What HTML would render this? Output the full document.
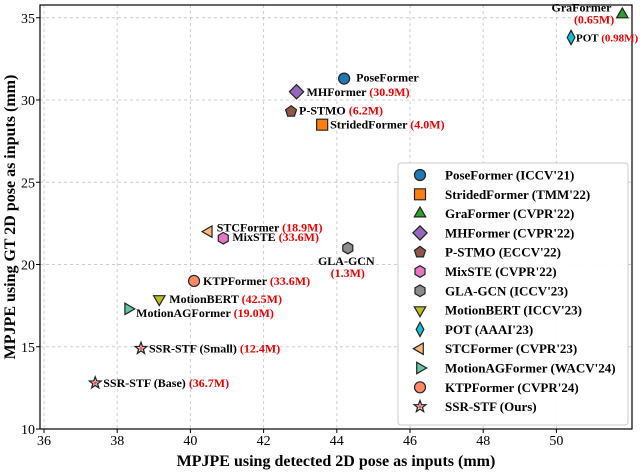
<!DOCTYPE html>
<html><head><meta charset="utf-8"><style>
body{margin:0;background:#fff}
svg text{font-family:"Liberation Serif",serif}
</style></head><body>
<svg id="c" width="640" height="470" xmlns="http://www.w3.org/2000/svg"></svg>
<script>
const names=["PoseFormer","StridedFormer","GraFormer","MHFormer","P-STMO","MixSTE","GLA-GCN","MotionBERT","POT","STCFormer","MotionAGFormer","KTPFormer","SSR-STF (Small)","SSR-STF (Base)"];
const xVals=[44.2,43.6,51.8,42.9,42.75,40.9,44.3,39.15,50.4,40.5,38.3,40.1,38.65,37.4];
const yVals=[31.3,28.5,35.2,30.5,29.3,21.6,21.0,17.9,33.8,22.0,17.3,19.0,14.9,12.8];
const params=["","(4.0M)","(0.65M)","(30.9M)","(6.2M)","(33.6M)","(1.3M)","(42.5M)","(0.98M)","(18.9M)","(19.0M)","(33.6M)","(12.4M)","(36.7M)"];
const xTicks=[36,38,40,42,44,46,48,50];
const yTicks=[10,15,20,25,30,35];
const legendLabels=["PoseFormer (ICCV'21)","StridedFormer (TMM'22)","GraFormer (CVPR'22)","MHFormer (CVPR'22)","P-STMO (ECCV'22)","MixSTE (CVPR'22)","GLA-GCN (ICCV'23)","MotionBERT (ICCV'23)","POT (AAAI'23)","STCFormer (CVPR'23)","MotionAGFormer (WACV'24)","KTPFormer (CVPR'24)","SSR-STF (Ours)"];
const L=40,R=632,T=5,B=429;
const sx=v=>44+(v-36)*36.6, sy=v=>429-(v-10)*16.45;
const svg=document.getElementById('c');const NS="http://www.w3.org/2000/svg";
function mk(t,a,p){const e=document.createElementNS(NS,t);for(const k in a)e.setAttribute(k,a[k]);(p||svg).appendChild(e);return e;}
const types=["circle","square","tri","diamond","pent","hex","hex","vtri","thin","ltri","rtri","circle","star","star"];
const colors=["#1f77b4","#ff7f0e","#2ca02c","#9467bd","#8c564b","#e377c2","#8c8c8c","#bcbd22","#17becf","#ffbb78","#5fc4a8","#ff8a65","#ff4444","#ff4444"];
function starPath(x,y,r){let p=[];for(let i=0;i<10;i++){const a=-Math.PI/2+i*Math.PI/5,rr=i%2?r*0.45:r*1.1;p.push((x+rr*Math.cos(a)).toFixed(1)+","+(y+rr*Math.sin(a)).toFixed(1));}return "M"+p.join("L")+"Z";}
function marker(type,x,y,c,s){
  let d;const r=s;
  const poly=(n,rot,rr)=>{let p=[];for(let i=0;i<n;i++){const a=rot+i*2*Math.PI/n;p.push((x+rr*Math.cos(a)).toFixed(1)+","+(y+rr*Math.sin(a)).toFixed(1));}return "M"+p.join("L")+"Z";};
  if(type=="circle")return mk('circle',{cx:x,cy:y,r:r,fill:c,stroke:"#222","stroke-width":1.2});
  if(type=="square")d=`M${x-r},${y-r}h${2*r}v${2*r}h${-2*r}Z`;
  if(type=="tri")d=poly(3,-Math.PI/2,r*1.2);
  if(type=="vtri")d=poly(3,Math.PI/2,r*1.2);
  if(type=="ltri")d=poly(3,Math.PI,r*1.2);
  if(type=="rtri")d=poly(3,0,r*1.2);
  if(type=="diamond")d=poly(4,0,r*1.3);
  if(type=="thin")d=`M${x},${y-r*1.3}L${x+r*0.7},${y}L${x},${y+r*1.3}L${x-r*0.7},${y}Z`;
  if(type=="pent")d=poly(5,-Math.PI/2,r*1.05);
  if(type=="hex")d=poly(6,Math.PI/2,r*1.05);
  if(type=="star"){const g=mk('g',{});mk('path',{d:starPath(x,y,r),fill:"#fff",stroke:"#222","stroke-width":1.3},g);mk('path',{d:starPath(x,y,r*0.45),fill:c,stroke:"none"},g);return g;}
  return mk('path',{d:d,fill:c,stroke:"#222","stroke-width":1.2,"stroke-linejoin":"miter"});
}
xTicks.forEach(v=>{const g=mk('line',{x1:sx(v),x2:sx(v),y1:T,y2:B,stroke:"#ccc","stroke-dasharray":"3,3"});
 const t=mk('text',{x:sx(v),y:B+16,"text-anchor":"middle","font-size":14});t.textContent=v;
 mk('line',{x1:sx(v),x2:sx(v),y1:B,y2:B+4,stroke:"#000"});});
yTicks.forEach(v=>{const g=mk('line',{x1:L,x2:R,y1:sy(v),y2:sy(v),stroke:"#ccc","stroke-dasharray":"3,3"});
 const t=mk('text',{x:L-5,y:sy(v)+5,"text-anchor":"end","font-size":14});t.textContent=v;
 mk('line',{x1:L-4,x2:L,y1:sy(v),y2:sy(v),stroke:"#000"});});
const fr=mk('rect',{x:L,y:T,width:R-L,height:B-T,fill:"none",stroke:"#000","stroke-width":1.2});
let xt=mk('text',{x:336,y:466,"text-anchor":"middle","font-size":16,"font-weight":"bold"});xt.textContent="MPJPE using detected 2D pose as inputs (mm)";
let yt=mk('text',{x:0,y:0,"text-anchor":"middle","font-size":16,"font-weight":"bold",transform:"translate(15,217) rotate(-90)"});yt.textContent="MPJPE using GT 2D pose as inputs (mm)";
const lab=[[12,3,"start"],[8,4,"start"],[-8,-3,"end",1],[10,4,"start"],[8,3,"start"],[9,3,"start"],[0,17,"middle",1],[10,4,"start"],[5,4,"start"],[8,0,"start"],[8,8,"start"],[9,4,"start"],[8,4,"start"],[8,4,"start"]];
names.forEach((n,i)=>{const x=sx(xVals[i]),y=sy(yVals[i]);
 const m=marker(types[i],x,y,colors[i],5.5);
 const o=lab[i];const t=mk('text',{x:x+o[0],y:y+o[1],"text-anchor":o[2],"font-size":n=="POT"?11:12,"font-weight":"bold"});
 
 const s1=document.createElementNS(NS,'tspan');s1.textContent=n+" ";t.appendChild(s1);
 if(params[i]){const s2=document.createElementNS(NS,'tspan');s2.setAttribute('fill','#e00');s2.textContent=params[i];
  if(o[3]){s2.setAttribute('x',x+o[0]);s2.setAttribute('dy',12);} t.appendChild(s2);}
});
const lg=mk('rect',{x:398,y:163,width:230,height:262,fill:"#fff",stroke:"#ccc",rx:3,"fill-opacity":0.9});
legendLabels.forEach((s,i)=>{const y=175+i*19.3;
 const m=marker(types[i],420,y,colors[i],5.5);
 const t=mk('text',{x:445,y:y+4.5,"font-size":13,"font-weight":"bold"});t.textContent=s;});
</script>
</body></html>
